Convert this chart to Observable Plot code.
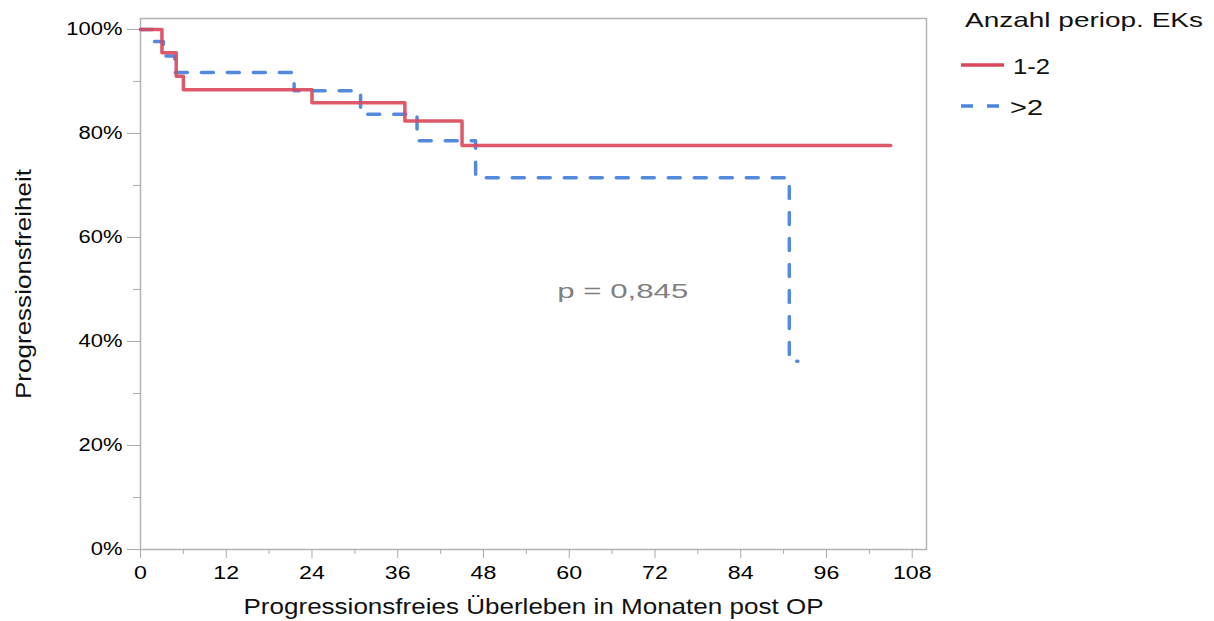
<!DOCTYPE html>
<html><head><meta charset="utf-8">
<script src="https://cdn.jsdelivr.net/npm/d3@7"></script>
<script src="https://cdn.jsdelivr.net/npm/@observablehq/plot@0.6"></script>
<style>
body{margin:0;background:#fff;font-family:"Liberation Sans",Arial,sans-serif;}
#wrap{position:relative;width:1214px;height:621px;overflow:hidden;background:#fff}
#wrap > svg{position:absolute;left:0;top:0}
</style></head><body><div id="wrap"></div>
<script>
// ---- data ----
const groups = ["1-2", ">2"];
const colors = ["#d9475a", "#4a84dc"];
const months12 = [0, 3, 5, 6, 24, 37, 45, 105];
const surv12 = [1.0, 0.955, 0.910, 0.884, 0.859, 0.824, 0.777, 0.777];
const monthsGt2 = [0, 1.8, 3.2, 4.8, 21.5, 30.8, 38.7, 46.9, 90.8, 92];
const survGt2 = [1.0, 0.977, 0.949, 0.917, 0.882, 0.837, 0.786, 0.715, 0.362, 0.362];
const xTicks = [0, 12, 24, 36, 48, 60, 72, 84, 96, 108];
const xMinorTicks = [6, 18, 30, 42, 54, 66, 78, 90, 102];
const yTicks = [0, 0.2, 0.4, 0.6, 0.8, 1.0];
const yMinorTicks = [0.1, 0.3, 0.5, 0.7, 0.9];
const legendTitle = "Anzahl periop. EKs";
const xTitle = "Progressionsfreies Überleben in Monaten post OP";
const yTitle = "Progressionsfreiheit";
const pLabel = [{month: 67.5, surv: 0.496, text: "p = 0,845"}];

// ---- build ----
const rows12 = months12.map((m, i) => ({month: m, surv: surv12[i], group: groups[0]}));
const rowsGt2 = monthsGt2.map((m, i) => ({month: m, surv: survGt2[i], group: groups[1]}));

const chart = Plot.plot({
  width: 1214, height: 621,
  marginLeft: 140, marginRight: 288, marginTop: 18, marginBottom: 72,
  x: {domain: [0, 110]},
  y: {domain: [0, 1.021]},
  style: {fontFamily: "'Liberation Sans',Arial,sans-serif", fontSize: "18px", color: "#000", background: "white"},
  marks: [
    Plot.frame({stroke: "#b4b4b4", strokeWidth: 1.5}),
    Plot.axisX({ticks: xTicks, tickSize: 9, tickPadding: 7, tickFormat: d => d, label: null, stroke: "#aaa", fill: "#000", fontSize: 19}),
    Plot.axisX({ticks: xMinorTicks, tickSize: 5, tickFormat: () => "", label: null, stroke: "#aaa"}),
    Plot.axisY({ticks: yTicks, tickSize: 13, tickPadding: 5, tickFormat: d => Math.round(d * 100) + "%", label: null, stroke: "#aaa", fill: "#000", fontSize: 18}),
    Plot.axisY({ticks: yMinorTicks, tickSize: 7, tickFormat: () => "", label: null, stroke: "#aaa"}),
    Plot.line(rowsGt2, {x: "month", y: "surv", curve: "step-after", stroke: colors[1], strokeWidth: 3.5, strokeDasharray: "12,14", strokeOpacity: 0.95}),
    Plot.line(rows12, {x: "month", y: "surv", curve: "step-after", stroke: colors[0], strokeWidth: 3.5, strokeOpacity: 0.9}),
    Plot.text(pLabel, {x: "month", y: "surv", text: "text", fill: "#7f7f7f", fontSize: 21}),
    Plot.text([xTitle], {frameAnchor: "bottom", lineAnchor: "middle", textAnchor: "middle", dy: 57, fontSize: 22, fill: "#111"}),
    Plot.text([yTitle], {frameAnchor: "left", lineAnchor: "middle", textAnchor: "middle", rotate: -90, dx: -117, fontSize: 22, fill: "#111"})
  ]
});
const wrap = document.getElementById("wrap");
wrap.appendChild(chart);

// stretch text to match the reference proportions
function fitText(el, w) {
  el.setAttribute("textLength", w);
  el.setAttribute("lengthAdjust", "spacingAndGlyphs");
}
chart.querySelectorAll("text").forEach(t => {
  const s = t.textContent;
  if (s === xTitle) fitText(t, 580);
  else if (s === yTitle) fitText(t, 230);
  else if (s === pLabel[0].text) fitText(t, 131);
  else if (s.trim() !== "") fitText(t, t.getComputedTextLength() * 1.22);
});

// legend
const lg = d3.select(wrap).append("svg")
  .attr("width", 1214).attr("height", 621)
  .style("pointer-events", "none")
  .attr("font-family", "'Liberation Sans',Arial,sans-serif");
const lt = lg.append("text").attr("x", 965).attr("y", 27).attr("font-size", 21).attr("fill", "#111").text(legendTitle);
fitText(lt.node(), 238);
groups.forEach((g, i) => {
  const cy = i === 0 ? 65 : 106;
  lg.append("line").attr("x1", 961).attr("x2", i === 0 ? 1004 : 1000).attr("y1", cy).attr("y2", cy)
    .attr("stroke", colors[i]).attr("stroke-width", 3.5)
    .attr("stroke-dasharray", i === 1 ? "12,14" : null);
  const tx = lg.append("text").attr("x", i === 0 ? 1013 : 1010).attr("y", cy + 9)
    .attr("font-size", 22).attr("fill", "#111").text(g);
  fitText(tx.node(), i === 0 ? 37 : 33);
});
</script></body></html>
